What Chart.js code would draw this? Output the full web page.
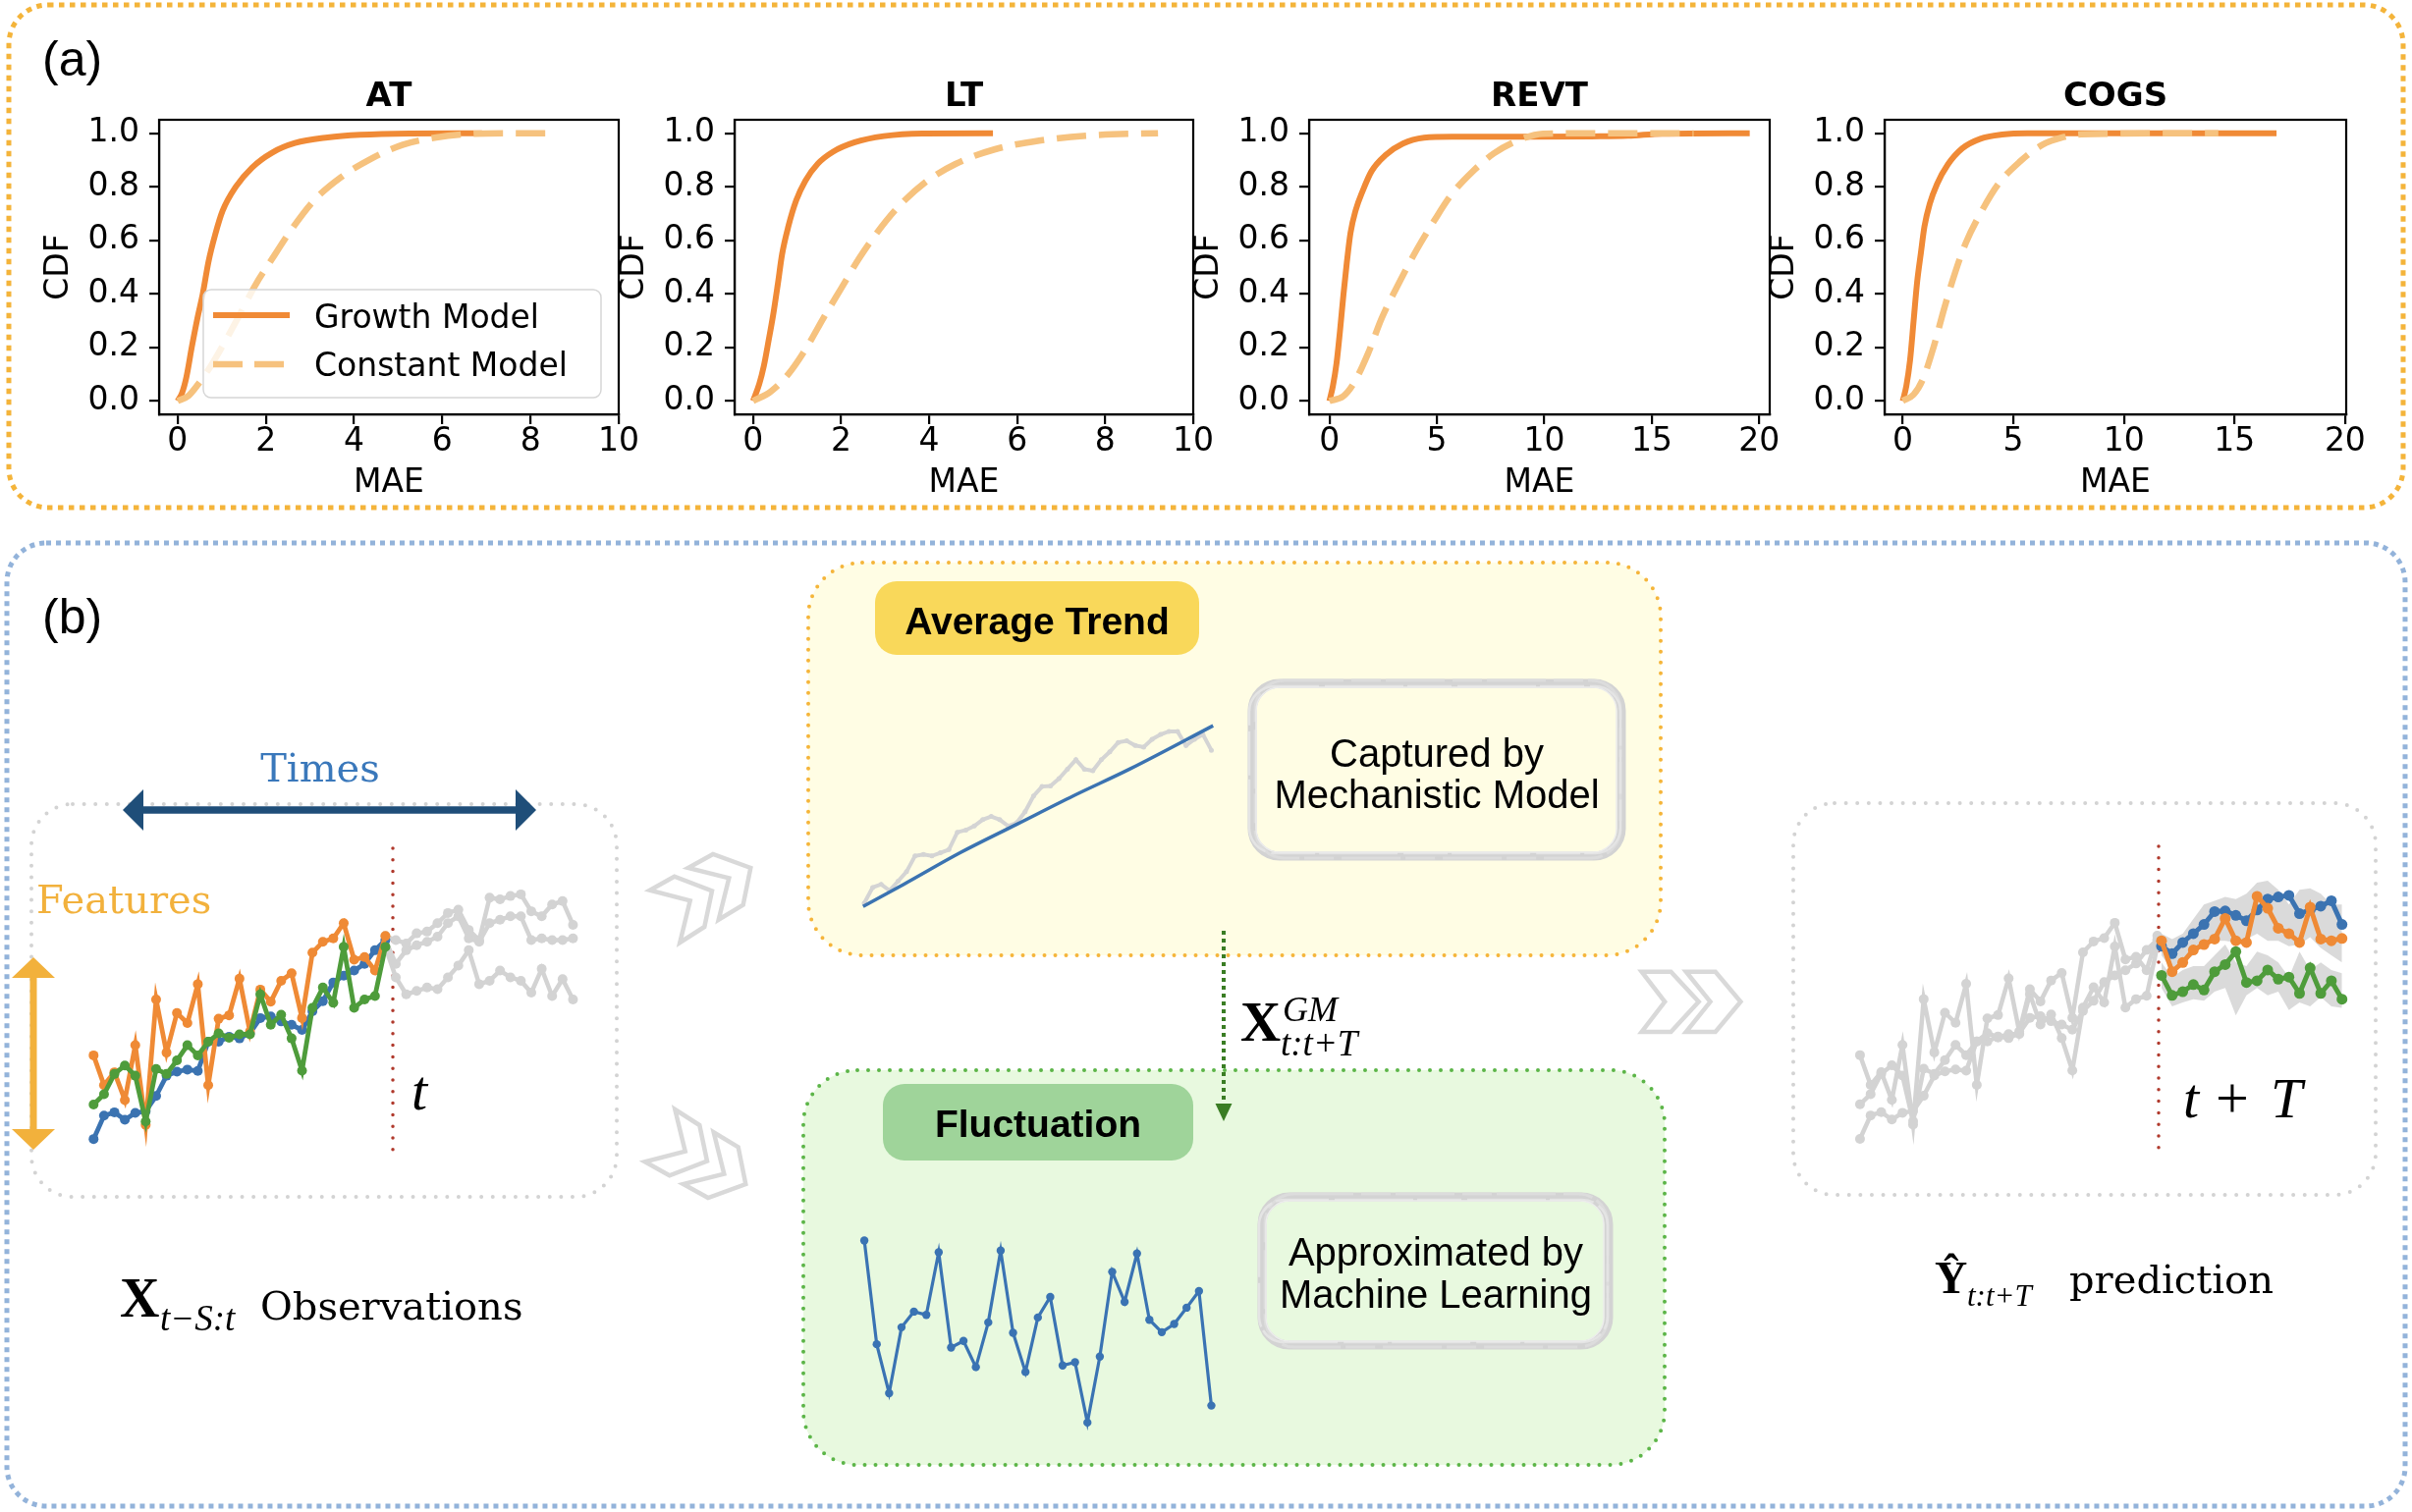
<!DOCTYPE html>
<html><head><meta charset="utf-8">
<script src="https://cdn.jsdelivr.net/npm/chart.js@4.4.1/dist/chart.umd.min.js"></script>
<style>
html,body{margin:0;padding:0;background:#fff;}
#root{position:relative;width:2456px;height:1540px;overflow:hidden;background:#fff;}
.layer{position:absolute;left:0;top:0;}
#charts canvas{position:absolute;}
#fg{pointer-events:none;}
</style></head>
<body><div id="root">
<svg id="bg" class="layer" width="2456" height="1540" xmlns="http://www.w3.org/2000/svg">
  <!-- panel frames -->
  <rect x="9" y="5" width="2438" height="512" rx="40" fill="none" stroke="#f4b43a" stroke-width="5" stroke-dasharray="5.5 5.5"/>
  <rect x="7" y="553" width="2442" height="981" rx="40" fill="none" stroke="#93b3da" stroke-width="5" stroke-dasharray="5 5"/>
  <!-- yellow / green boxes -->
  <rect x="823" y="573" width="868" height="400" rx="55" fill="#fffde4" stroke="#f5b53a" stroke-width="4" stroke-dasharray="0 11" stroke-linecap="round"/>
  <rect x="818" y="1090" width="877" height="402" rx="55" fill="#e8f9df" stroke="#5cb548" stroke-width="4" stroke-dasharray="0 11" stroke-linecap="round"/>
  <!-- gray dotted boxes -->
  <rect x="32" y="819" width="596" height="400" rx="42" fill="none" stroke="#d3d3d3" stroke-width="4" stroke-dasharray="0 11.6" stroke-linecap="round"/>
  <rect x="1826" y="818" width="593" height="399" rx="42" fill="none" stroke="#d3d3d3" stroke-width="4" stroke-dasharray="0 11.6" stroke-linecap="round"/>
  <!-- pills -->
  <rect x="891" y="592" width="330" height="75" rx="22" fill="#f9d85a"/>
  <rect x="899" y="1104" width="316" height="78" rx="22" fill="#9fd49a"/>
  <!-- sketchy boxes -->
  <g fill="none">
    <rect x="1275" y="696" width="376" height="176" rx="28" stroke="#d3d3d3" stroke-width="9"/>
    <rect x="1278" y="693" width="372" height="181" rx="30" stroke="#dcdcdc" stroke-width="3" stroke-dasharray="60 8 30 5"/>
    <rect x="1272" y="699" width="378" height="170" rx="26" stroke="#e4e4e4" stroke-width="2.5" stroke-dasharray="45 6 80 4"/>
    <rect x="1279" y="700" width="367" height="168" rx="24" stroke="#ececec" stroke-width="1.5"/>
    <rect x="1285" y="1219" width="353" height="151" rx="28" stroke="#d3d3d3" stroke-width="9"/>
    <rect x="1288" y="1216" width="349" height="156" rx="30" stroke="#dcdcdc" stroke-width="3" stroke-dasharray="60 8 30 5"/>
    <rect x="1282" y="1222" width="355" height="145" rx="26" stroke="#e4e4e4" stroke-width="2.5" stroke-dasharray="45 6 80 4"/>
    <rect x="1289" y="1223" width="344" height="143" rx="24" stroke="#ececec" stroke-width="1.5"/>
  </g>
  <!-- chevrons -->
  <g fill="none" stroke="#d9d9d9" stroke-width="4.5" stroke-linejoin="miter">
    <polygon points="661.7,906.7 686.7,892.7 725,907.3 717.3,944 692.3,960 702.7,917.3"/>
    <polygon points="700.7,884 726,870 764.3,884 756.7,921.7 731.7,936.7 742.3,894.3"/>
    <polygon points="656.7,1183.3 681.7,1197.3 720,1182.7 712.3,1146 687.3,1130 697.7,1172.7"/>
    <polygon points="695.7,1206 721,1220 759.3,1206 751.7,1168.3 726.7,1153.3 737.3,1195.7"/>
    <polygon points="1671.6,989.7 1701.4,989.7 1729.7,1020.3 1701.4,1051 1671.6,1051 1695.2,1020.3"/>
    <polygon points="1716.8,989.7 1746.7,989.7 1772.4,1020.3 1746.7,1051 1716.8,1051 1741.5,1020.3"/>
  </g>
  <!-- arrows -->
  <polygon fill="#1f4e79" points="125,825 146,804 146,821.3 525,821.3 525,804 546,825 525,846 525,828.7 146,828.7 146,846"/>
  <polygon fill="#f2b13c" points="34,975 56,996 37.5,996 37.5,1150 56,1150 34,1171 12,1150 30.5,1150 30.5,996 12,996"/>
  <line x1="400" y1="864" x2="400" y2="1176" stroke="#b0392c" stroke-width="3.5" stroke-dasharray="0 11.8" stroke-linecap="round"/>
  <line x1="2198" y1="862" x2="2198" y2="1178" stroke="#b0392c" stroke-width="3.5" stroke-dasharray="0 11.8" stroke-linecap="round"/>
  <line x1="1246" y1="948" x2="1246" y2="1124" stroke="#3a7d24" stroke-width="4" stroke-dasharray="4 4"/>
  <polygon fill="#3a7d24" points="1237.5,1124 1254.5,1124 1246,1142"/>
</svg>
<div id="charts" class="layer" style="width:2456px;height:1540px;"></div>
<svg id="fg" class="layer" width="2456" height="1540" xmlns="http://www.w3.org/2000/svg">
  <text x="43" y="77" font-family="Liberation Sans, Arial, sans-serif" font-size="50">(a)</text>
  <text x="43" y="645" font-family="Liberation Sans, Arial, sans-serif" font-size="50">(b)</text>
  <!-- AT legend -->
  <rect x="207" y="295" width="405" height="110" rx="8" fill="#ffffff" fill-opacity="0.8" stroke="#d6d6d6" stroke-width="1.5"/>
  <line x1="217" y1="321" x2="295" y2="321" stroke="#f08a36" stroke-width="6"/>
  <line x1="217" y1="371" x2="295" y2="371" stroke="#f6c27e" stroke-width="6.5" stroke-dasharray="30 12"/>
  <text x="320" y="334" font-family="DejaVu Sans" font-size="33">Growth Model</text>
  <text x="320" y="383" font-family="DejaVu Sans" font-size="33">Constant Model</text>
  <!-- panel b texts -->
  <text x="326" y="796" text-anchor="middle" font-family="DejaVu Serif" font-size="40" fill="#3a78bb">Times</text>
  <text x="37" y="930" font-family="DejaVu Serif" font-size="40" fill="#f2b13c">Features</text>
  <text x="419" y="1130" font-family="Liberation Serif" font-style="italic" font-size="58">t</text>
  <text x="122" y="1341" font-family="Liberation Serif" font-weight="bold" font-size="56">X</text>
  <text x="163" y="1355" font-family="Liberation Serif" font-style="italic" font-size="37">t−S:t</text>
  <text x="265" y="1344" font-family="DejaVu Serif" font-size="40">Observations</text>
  <text x="1056" y="646" text-anchor="middle" font-family="Liberation Sans, Arial, sans-serif" font-weight="bold" font-size="39">Average Trend</text>
  <text x="1463" y="781" text-anchor="middle" font-family="Liberation Sans, Arial, sans-serif" font-size="40">Captured by</text>
  <text x="1463" y="823" text-anchor="middle" font-family="Liberation Sans, Arial, sans-serif" font-size="40">Mechanistic Model</text>
  <text x="1263" y="1060" font-family="Liberation Serif" font-weight="bold" font-size="57">X</text>
  <text x="1306" y="1040" font-family="Liberation Serif" font-style="italic" font-size="36">GM</text>
  <text x="1304" y="1075" font-family="Liberation Serif" font-style="italic" font-size="37">t:t+T</text>
  <text x="1057" y="1158" text-anchor="middle" font-family="Liberation Sans, Arial, sans-serif" font-weight="bold" font-size="39">Fluctuation</text>
  <text x="1462" y="1289" text-anchor="middle" font-family="Liberation Sans, Arial, sans-serif" font-size="40">Approximated by</text>
  <text x="1462" y="1332" text-anchor="middle" font-family="Liberation Sans, Arial, sans-serif" font-size="40">Machine Learning</text>
  <text x="2223" y="1138" font-family="Liberation Serif" font-style="italic" font-size="58">t</text>
  <text x="2256" y="1138" font-family="Liberation Serif" font-size="60">+</text>
  <text x="2312" y="1138" font-family="Liberation Serif" font-style="italic" font-size="58">T</text>
  <text x="1970" y="1317" font-family="Liberation Serif" font-weight="bold" font-size="46">Ŷ</text>
  <text x="2003" y="1330" font-family="Liberation Serif" font-style="italic" font-size="31">t:t+T</text>
  <text x="2107" y="1317" font-family="DejaVu Serif" font-size="40">prediction</text>
</svg>
</div>
<script>
// ---------------- Panel (a) data ----------------
const panelTitles = ['AT', 'LT', 'REVT', 'COGS'];
const xTicksSmall = [0, 2, 4, 6, 8, 10];
const xTicksLarge = [0, 5, 10, 15, 20];
const yTicksCDF = [0, 0.2, 0.4, 0.6, 0.8, 1.0];

const atGrowthX = [0, 0.1, 0.2, 0.32, 0.45, 0.57, 0.7, 0.85, 1.02, 1.32, 1.69, 2.14, 2.66, 3.4, 4.14, 5.26, 6.9];
const atGrowthY = [0, 0.03, 0.09, 0.2, 0.31, 0.4, 0.52, 0.62, 0.71, 0.8, 0.872, 0.927, 0.963, 0.984, 0.994, 0.999, 1.0];
const atConstX = [0, 0.25, 0.5, 0.75, 1.0, 1.4, 1.76, 2.14, 2.58, 3.1, 3.7, 4.37, 5.11, 5.86, 6.6, 7.49, 8.5];
const atConstY = [0, 0.02, 0.07, 0.13, 0.2, 0.32, 0.432, 0.53, 0.64, 0.75, 0.835, 0.903, 0.957, 0.984, 0.997, 1.0, 1.0];

const ltGrowthX = [0, 0.14, 0.245, 0.35, 0.455, 0.56, 0.66, 0.8, 0.98, 1.19, 1.47, 1.82, 2.31, 2.97, 3.85, 5.45];
const ltGrowthY = [0, 0.063, 0.131, 0.223, 0.32, 0.434, 0.549, 0.651, 0.749, 0.823, 0.886, 0.931, 0.966, 0.989, 0.999, 1.0];
const ltConstX = [0, 0.4, 0.8, 1.2, 1.6, 2.0, 2.4, 2.8, 3.3, 3.9, 4.6, 5.5, 6.5, 7.7, 9.2];
const ltConstY = [0, 0.035, 0.1, 0.195, 0.31, 0.42, 0.53, 0.625, 0.725, 0.815, 0.885, 0.94, 0.972, 0.992, 1.0];

const revtGrowthX = [0, 0.16, 0.33, 0.49, 0.65, 0.81, 0.98, 1.22, 1.55, 1.96, 2.61, 3.42, 4.4, 5.7, 7.33, 8.96, 12.2, 13.9, 15.5, 19.56];
const revtGrowthY = [0, 0.055, 0.14, 0.26, 0.395, 0.517, 0.627, 0.712, 0.785, 0.858, 0.918, 0.961, 0.983, 0.987, 0.987, 0.987, 0.988, 0.99, 0.998, 1.0];
const revtConstX = [0, 0.65, 1.14, 1.79, 2.44, 3.26, 4.07, 4.89, 5.7, 6.68, 7.66, 8.96, 9.94, 12.2, 16.95];
const revtConstY = [0, 0.018, 0.067, 0.176, 0.31, 0.444, 0.566, 0.675, 0.773, 0.858, 0.925, 0.979, 0.998, 1.0, 1.0];

const cogsGrowthX = [0, 0.16, 0.33, 0.49, 0.65, 0.82, 0.98, 1.22, 1.55, 2.04, 2.69, 3.51, 4.49, 5.63, 16.9];
const cogsGrowthY = [0, 0.055, 0.152, 0.298, 0.444, 0.553, 0.651, 0.736, 0.81, 0.883, 0.943, 0.979, 0.995, 1.0, 1.0];
const cogsConstX = [0, 0.49, 0.9, 1.39, 1.88, 2.37, 2.85, 3.51, 4.32, 5.3, 6.28, 7.26, 8.07, 14.27];
const cogsConstY = [0, 0.024, 0.079, 0.2, 0.347, 0.48, 0.59, 0.7, 0.81, 0.894, 0.955, 0.985, 0.996, 1.0];

// ---------------- Panel (b) data ----------------
const obsBlue   = [2.3, 9.2, 10.2, 8, 10, 10.5, 15, 21, 22.2, 22.8, 22.4, 31, 31, 32.5, 32, 33.5, 38, 38.5, 37, 36, 34.5, 40, 43, 48.5, 50.5, 52, 54, 58, 61];
const obsOrange = [27, 18.2, 22, 13.8, 30, 6.5, 43.5, 27.8, 39.5, 36.5, 48, 18.2, 37.8, 38.8, 49.6, 34, 46.4, 42.8, 49, 51.2, 38, 57.3, 60.5, 61.5, 66, 55.2, 56, 52, 62.2];
const obsGreen  = [12.5, 15.5, 21.5, 24, 21, 7.5, 23, 21.5, 25.5, 30, 27, 31, 33.5, 32.2, 33.2, 33.2, 45, 36, 39, 32, 22.5, 41, 47, 42.5, 59, 41, 43.5, 44.5, 59];
const futGrayTop = [62.2, 61, 60, 63, 63.5, 66, 69, 70, 64, 61, 73.5, 73, 74, 74.5, 69.5, 68, 71.5, 72.5, 65.5];
const futGrayMid = [61, 54, 58, 59.5, 60.5, 62, 66, 68, 61.5, 60.5, 66, 67, 68, 68, 61, 61.5, 61, 61, 61.5];
const futGrayLow = [59, 50, 45, 46, 47, 46.5, 50, 53.5, 58, 48, 49, 52, 50, 49, 45.5, 52.5, 44.5, 49.5, 43.5];

const trendGray = [1, 6, 7, 5, 8, 11, 16, 16.5, 16, 17, 18, 23.5, 24.2, 25.5, 27.5, 28.5, 27.5, 25.5, 26.5, 30, 35, 38, 38.2, 40.5, 43.5, 46.5, 43.5, 43, 46.5, 49, 52, 52.5, 51, 50.5, 53, 54.5, 55.5, 55.5, 51, 53, 54.5, 49.5];
const trendFitX = [-0.13, 4.67, 11.33, 18, 24.67, 31.33, 41.2];
const trendFitY = [0, 7, 17, 26, 35, 43.5, 57.3];

const fluctValues = [58.8, 27, 12, 32.2, 37, 36, 55.2, 26, 28, 20, 33.7, 55.7, 30.5, 18.5, 35.2, 41.5, 20.5, 21.5, 3, 23.2, 49.2, 40, 54.8, 34.5, 30.7, 33.2, 38.2, 43.3, 8.2];

const predX      = [28.4, 29.4, 30.4, 31.4, 32.4, 33.4, 34.4, 35.4, 36.4, 37.4, 38.4, 39.4, 40.4, 41.4, 42.4, 43.4, 44.4, 45.4];
const predBlue   = [59.1, 56.9, 60.2, 62.8, 65.5, 69.3, 69.5, 68.2, 66.6, 69.8, 73.0, 73.6, 74.1, 68.7, 69.8, 70.9, 72.5, 65.5];
const predOrange = [60.7, 51.6, 54.3, 58.0, 59.6, 61.2, 67.3, 60.7, 60.2, 73.8, 70.3, 64.4, 62.8, 60.2, 70.6, 61.2, 60.7, 61.4];
const predGreen  = [50.5, 44.6, 45.7, 47.8, 46.2, 51.6, 53.7, 57.5, 48.4, 48.9, 52.1, 49.4, 50.0, 45.2, 52.7, 45.2, 48.9, 43.5];
const bandUpperA = [62.8, 61.2, 62.8, 67.1, 71.4, 72.5, 73.6, 73.0, 74.6, 77.8, 78.4, 75.7, 71.4, 75.7, 76.2, 74.6, 71.4, 71.4];
const bandLowerA = [56.4, 52.1, 54.3, 56.4, 59.6, 60.7, 60.7, 60.2, 61.2, 62.8, 60.7, 60.7, 59.1, 59.6, 61.8, 58.6, 56.4, 54.3];
const bandUpperG = [54.3, 50.0, 52.1, 53.2, 53.2, 56.4, 59.6, 54.3, 53.2, 57.5, 56.4, 54.3, 50.0, 57.5, 52.1, 54.3, 52.1, 51.1];
const bandLowerG = [46.8, 41.4, 42.5, 43.5, 43.0, 45.7, 46.8, 38.7, 44.6, 46.8, 44.6, 45.7, 40.3, 42.5, 41.4, 44.1, 41.4, 40.9];

// ---------------- helpers ----------------
const COL = {growth: '#f08a36', constant: '#f6c27e', blue: '#3b73b1', orange: '#ef8a35', green: '#4e9c3b', gray: '#d3d3d3'};
const pts = (xs, ys) => xs.map((x, i) => ({x: x, y: ys[i]}));
const seq = (n, start) => Array.from({length: n}, (_, i) => start + i);

Chart.defaults.font.family = 'DejaVu Sans';
Chart.defaults.color = '#000';

function makeCanvas(id, left, top, w, h) {
  const c = document.createElement('canvas');
  c.id = id; c.width = w; c.height = h;
  c.style.left = left + 'px'; c.style.top = top + 'px';
  c.style.width = w + 'px'; c.style.height = h + 'px';
  document.getElementById('charts').appendChild(c);
  return c;
}

const framePlugin = {
  id: 'frame',
  afterDraw(chart) {
    const a = chart.chartArea, ctx = chart.ctx;
    ctx.save(); ctx.strokeStyle = '#000'; ctx.lineWidth = 2.2;
    ctx.strokeRect(a.left, a.top, a.right - a.left, a.bottom - a.top);
    ctx.restore();
  }
};

function cdfChart(id, axL, axR, title, gX, gY, cX, cY, xmin, xmax, xticks) {
  const yW = 122, padR = 30, top = 60, h = 455;
  const c = makeCanvas(id, axL - yW, top, (axR - axL) + yW + padR, h);
  const tickFont = {family: 'DejaVu Sans', size: 33, lineHeight: 1};
  const gridOpt = {display: true, drawOnChartArea: false, drawTicks: true, tickLength: 10, color: '#000', lineWidth: 2.2};
  new Chart(c, {
    type: 'line',
    data: {datasets: [
      {label: 'Constant Model', data: pts(cX, cY), borderColor: COL.constant, borderWidth: 6.5, borderDash: [30, 13],
       pointRadius: 0, cubicInterpolationMode: 'monotone', fill: false, order: 0},
      {label: 'Growth Model', data: pts(gX, gY), borderColor: COL.growth, borderWidth: 6,
       pointRadius: 0, cubicInterpolationMode: 'monotone', fill: false, order: 1}
    ]},
    options: {
      responsive: false, animation: false,
      layout: {padding: {left: 0, right: padR, top: 0, bottom: 0}},
      plugins: {
        legend: {display: false}, tooltip: {enabled: false},
        title: {display: true, text: title, color: '#000', fullSize: false,
                font: {family: 'DejaVu Sans', size: 34, weight: 'bold', lineHeight: 1},
                padding: {top: 22, bottom: 6}}
      },
      scales: {
        x: {type: 'linear', min: xmin, max: xmax,
            afterBuildTicks: s => { s.ticks = xticks.map(v => ({value: v})); },
            afterFit: s => { s.height = 93; },
            grid: gridOpt, border: {display: true, color: '#000', width: 2.2},
            ticks: {font: tickFont, color: '#000', padding: 2, maxRotation: 0, autoSkip: false, callback: v => String(v)},
            title: {display: true, text: 'MAE', color: '#000', font: tickFont, padding: {top: 0, bottom: 6.5}}},
        y: {type: 'linear', min: -0.05, max: 1.05,
            afterBuildTicks: s => { s.ticks = yTicksCDF.map(v => ({value: v})); },
            afterFit: s => { s.width = yW; },
            grid: gridOpt, border: {display: true, color: '#000', width: 2.2},
            ticks: {font: tickFont, color: '#000', padding: 10, autoSkip: false, callback: v => Number(v).toFixed(1)},
            title: {display: true, text: 'CDF', color: '#000', font: tickFont, padding: {top: 3.5, bottom: 0}}}
      }
    },
    plugins: [framePlugin]
  });
}

cdfChart('cAT', 162, 630, panelTitles[0], atGrowthX, atGrowthY, atConstX, atConstY, -0.42, 10, xTicksSmall);
cdfChart('cLT', 748, 1215, panelTitles[1], ltGrowthX, ltGrowthY, ltConstX, ltConstY, -0.42, 10, xTicksSmall);
cdfChart('cREVT', 1333, 1802, panelTitles[2], revtGrowthX, revtGrowthY, revtConstX, revtConstY, -0.945, 20.49, xTicksLarge);
cdfChart('cCOGS', 1919, 2389, panelTitles[3], cogsGrowthX, cogsGrowthY, cogsConstX, cogsConstY, -0.82, 20.05, xTicksLarge);

function miniChart(id, left, top, w, h, datasets, xmin, xmax, ymin, ymax) {
  const c = makeCanvas(id, left, top, w, h);
  new Chart(c, {
    type: 'line',
    data: {datasets: datasets},
    options: {
      responsive: false, animation: false,
      layout: {padding: 0},
      plugins: {legend: {display: false}, tooltip: {enabled: false}, title: {display: false}},
      scales: {
        x: {type: 'linear', display: false, min: xmin, max: xmax},
        y: {type: 'linear', display: false, min: ymin, max: ymax}
      }
    }
  });
}
function dotLine(xs, ys, color, lw, r) {
  return {data: pts(xs, ys), borderColor: color, backgroundColor: color, borderWidth: lw,
          pointRadius: r, pointBorderWidth: 0, pointBackgroundColor: color, tension: 0, fill: false, clip: false};
}

const obsIdx = seq(29, 0);
const futIdx = seq(19, 28);

// Observations
miniChart('cObs', 80, 880, 520, 300, [
  dotLine(obsIdx, obsGreen, COL.green, 4.8, 5),
  dotLine(obsIdx, obsOrange, COL.orange, 4.8, 5),
  dotLine(obsIdx, obsBlue, COL.blue, 4.8, 5),
  dotLine(futIdx, futGrayTop, COL.gray, 4.5, 5),
  dotLine(futIdx, futGrayMid, COL.gray, 4.5, 5),
  dotLine(futIdx, futGrayLow, COL.gray, 4.5, 5)
], -0.97, 47.09, -2, 82);

// Average trend
miniChart('cTrend', 860, 720, 390, 220, [
  {data: pts(trendFitX, trendFitY), borderColor: COL.blue, borderWidth: 3.5, pointRadius: 0,
   cubicInterpolationMode: 'monotone', fill: false, clip: false},
  dotLine(seq(trendGray.length, 0), trendGray, '#d4d4d4', 4, 2.5)
], -1.85, 42.45, -3.99, 62.0);

// Fluctuation
miniChart('cFluct', 860, 1240, 400, 230, [
  dotLine(seq(fluctValues.length, 0), fluctValues, '#3a73b3', 3.2, 4.2)
], -1.26, 29.77, -2.09, 64.6);

// Prediction
const bandStyle = {borderWidth: 0, pointRadius: 0, tension: 0, clip: false, backgroundColor: 'rgba(205,205,205,0.75)'};
miniChart('cPred', 1860, 850, 550, 340, [
  dotLine(predX, predGreen, COL.green, 5, 5.5),
  dotLine(predX, predOrange, COL.orange, 5, 5.5),
  dotLine(predX, predBlue, COL.blue, 5, 5.5),
  dotLine(obsIdx, obsOrange, COL.gray, 4.5, 5),
  dotLine(obsIdx, obsGreen, COL.gray, 4.5, 5),
  dotLine(obsIdx, obsBlue, COL.gray, 4.5, 5),
  Object.assign({data: pts(predX, bandLowerA), fill: false}, bandStyle),
  Object.assign({data: pts(predX, bandUpperA), fill: '-1'}, bandStyle),
  Object.assign({data: pts(predX, bandLowerG), fill: false}, bandStyle),
  Object.assign({data: pts(predX, bandUpperG), fill: '-1'}, bandStyle)
], -2.63, 47.23, -4.79, 90.42);
</script>
</body></html>
